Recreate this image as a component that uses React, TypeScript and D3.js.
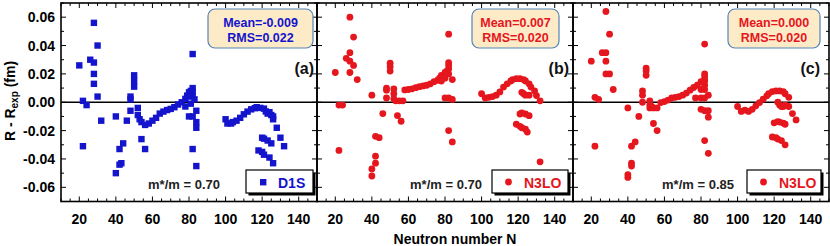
import React from 'react';
import * as d3 from 'd3';

// ---- data: [N, R - Rexp (fm)] ----
const d1sPoints: [number, number][] = [
  [20, 0.026], [22, 0.001], [22, -0.031], [24, -0.002], [26, 0.030],
  [28, 0.056], [28, 0.028], [28, 0.020], [28, 0.013], [30, 0.040], [30, 0.004], [32, -0.013],
  [40, -0.010], [40, -0.050], [42, -0.033], [42, -0.044], [43, -0.043], [44, -0.029], [46, -0.013],
  [48, 0.004], [48, 0.002], [48, -0.006], [50, 0.019], [50, 0.015], [50, 0.011],
  [52, -0.004], [52, -0.009], [54, -0.026], [56, -0.033],
  [53, -0.012], [54, -0.014], [56, -0.016], [58, -0.015], [60, -0.013], [62, -0.011], [64, -0.008],
  [66, -0.0066], [68, -0.0055], [70, -0.0047], [72, -0.0035], [74, -0.0016], [76, 0.0], [78, 0.0024],
  [79, 0.0047], [80, 0.007], [81, 0.008], [82, 0.010], [82, 0.0075], [82, 0.0045], [82, 0.034],
  [80, 0.004], [81, -0.001], [78, -0.003], [80, -0.010], [82, -0.010], [82, -0.033],
  [84, -0.045], [84, -0.006], [84, -0.014], [84, -0.018], [83, 0.002],
  [100, -0.012], [101, -0.015], [103, -0.015], [104, -0.014], [106, -0.013], [108, -0.011],
  [110, -0.0085], [112, -0.0066], [114, -0.005], [116, -0.0042], [117, -0.0035], [119, -0.004],
  [121, -0.0045], [122, -0.0065], [123, -0.008], [124, -0.007], [125, -0.009], [126, -0.010], [126, -0.012],
  [120, -0.025], [121, -0.0257], [123, -0.027], [125, -0.029],
  [118, -0.034], [120, -0.035], [121, -0.037], [124, -0.039], [126, -0.043],
  [128, -0.018], [130, -0.025], [132, -0.031],
];

const n3loPoints070: [number, number][] = [
  [20, 0.021], [22, -0.034], [22, -0.002], [24, -0.002], [26, 0.031],
  [28, 0.060], [28, 0.035], [28, 0.029], [28, 0.021], [30, 0.046], [30, 0.026], [32, 0.016],
  [40, 0.005], [40, -0.047], [40, -0.052], [42, -0.038], [42, -0.043], [42, -0.024], [44, -0.025], [46, -0.008],
  [48, 0.010], [48, 0.0085], [48, 0.003], [50, 0.0275], [50, 0.025], [50, 0.022],
  [52, 0.0094], [52, 0.006], [52, 0.0025], [54, -0.0094], [56, -0.0134],
  [53, 0.001], [55, 0.001], [57, 0.001], [58, 0.0087], [60, 0.009], [62, 0.0095], [64, 0.0103],
  [66, 0.011], [68, 0.0115], [70, 0.012], [72, 0.013], [74, 0.0145], [76, 0.0155], [77, 0.017],
  [78, 0.019], [80, 0.021], [81, 0.022], [82, 0.0235], [82, 0.026], [82, 0.028], [82, 0.048],
  [82, 0.020], [80, 0.017], [78, 0.015], [80, 0.003], [82, 0.003], [84, 0.002],
  [82, -0.020], [84, -0.028], [84, 0.016],
  [100, 0.006], [102, 0.003], [104, 0.0035], [106, 0.004], [108, 0.005], [110, 0.0073],
  [112, 0.0107], [114, 0.013], [116, 0.015], [117, 0.016], [119, 0.0166], [121, 0.0166],
  [123, 0.016], [124, 0.015], [126, 0.013], [127, 0.0107], [129, 0.008],
  [122, 0.007], [123, 0.006], [124, 0.005], [126, 0.005], [130, 0.0047], [132, 0.001],
  [121, -0.0083], [122, -0.0075], [124, -0.0083], [126, -0.0095],
  [119, -0.0155], [121, -0.017], [122, -0.018], [124, -0.019], [125, -0.021],
  [132, -0.042],
];

const n3loPoints085: [number, number][] = [
  [20, 0.029], [22, 0.0035], [24, 0.002], [22, -0.031], [26, 0.035],
  [28, 0.035], [28, 0.064], [28, 0.029], [28, 0.020], [30, 0.020], [30, 0.048], [32, 0.009],
  [40, -0.004], [40, -0.051], [40, -0.053], [42, -0.031], [42, -0.043], [42, -0.045], [44, -0.028], [46, -0.010],
  [48, 0.008], [48, 0.005], [48, 0.0], [50, 0.024], [50, 0.022], [50, 0.019],
  [52, 0.001], [52, -0.002], [52, -0.004], [54, -0.015], [56, -0.020],
  [53, -0.003], [54, -0.004], [56, -0.004], [58, -0.0002], [60, 0.0005], [62, 0.0015], [64, 0.003],
  [66, 0.0035], [68, 0.004], [70, 0.005], [72, 0.0065], [74, 0.0085], [76, 0.0104], [78, 0.012],
  [80, 0.0145], [82, 0.016], [82, 0.041], [82, 0.020], [82, 0.018], [82, 0.015], [82, 0.012],
  [80, 0.009], [82, 0.009], [77, 0.003], [80, 0.003], [82, 0.003], [84, 0.005],
  [80, -0.005], [82, -0.006], [84, -0.006], [84, -0.0105], [82, -0.027], [84, -0.036],
  [100, -0.003], [102, -0.0065], [104, -0.0055], [106, -0.0065], [108, -0.005], [110, -0.0025],
  [112, -0.0002], [114, 0.0022], [116, 0.0045], [117, 0.006], [119, 0.0075], [121, 0.008],
  [123, 0.008], [125, 0.0075], [126, 0.006], [128, 0.0035],
  [122, 0.0], [123, -0.002], [124, -0.003], [125, -0.003], [126, -0.002], [128, -0.003],
  [130, -0.008], [132, -0.0125],
  [120, -0.0145], [122, -0.0137], [123, -0.014], [125, -0.0147], [126, -0.0155],
  [119, -0.0245], [121, -0.025], [122, -0.026], [124, -0.027], [126, -0.030],
];

const xTickLabels = [20, 40, 60, 80, 100, 120, 140];
const yTickLabels = [-0.06, -0.04, -0.02, 0.0, 0.02, 0.04, 0.06];
const panelTags = ['(a)', '(b)', '(c)'];
const meanLabels = ['Mean=-0.009', 'Mean=0.007', 'Mean=0.000'];
const rmsLabels = ['RMS=0.022', 'RMS=0.020', 'RMS=0.020'];
const massRatios = ['m*/m = 0.70', 'm*/m = 0.70', 'm*/m = 0.85'];
const seriesNames = ['D1S', 'N3LO', 'N3LO'];

const BLUE = '#1414cc';
const RED = '#e5161d';
const FONT = '"Liberation Sans", Arial, Helvetica, sans-serif';

const panels = [
  { data: d1sPoints, color: BLUE, square: true, left: 61, stat: [208, 105], legend: [246, 67], ratioX: 184, tagX: 314 },
  { data: n3loPoints070, color: RED, square: false, left: 317, stat: [472, 87], legend: [492, 76], ratioX: 446, tagX: 569 },
  { data: n3loPoints085, color: RED, square: false, left: 573, stat: [728, 92], legend: [747, 74], ratioX: 698, tagX: 820 },
];

const PW = 256;
const TOP = 3;
const BOTTOM = 201.5;

const y = d3.scaleLinear().domain([-0.07, 0.07]).range([BOTTOM, TOP]);

const Panel = ({ p, i }: { p: typeof panels[number]; i: number }) => {
  const x = d3.scaleLinear().domain([10, 150]).range([p.left, p.left + PW]);
  const xMinor = d3.range(10, 151, 5);
  const yMinor = d3.range(-7, 8).map((v) => v / 100);
  const right = p.left + PW;
  const [sx, sw] = p.stat;
  const [lx, lw] = p.legend;
  return (
    <g>
      {/* zero line */}
      <line x1={p.left} x2={right} y1={y(0)} y2={y(0)} stroke="#000" strokeWidth={1.3} />
      {/* ticks */}
      {xMinor.map((t) => {
        const len = t % 20 === 0 ? 5 : 3;
        return (
          <g key={'x' + t}>
            <line x1={x(t)} x2={x(t)} y1={BOTTOM} y2={BOTTOM - len} stroke="#000" strokeWidth={1} />
            <line x1={x(t)} x2={x(t)} y1={TOP} y2={TOP + len} stroke="#000" strokeWidth={1} />
          </g>
        );
      })}
      {yMinor.map((t, k) => {
        const len = k % 2 === 1 ? 5 : 3;
        return (
          <g key={'y' + k}>
            <line x1={p.left} x2={p.left + len} y1={y(t)} y2={y(t)} stroke="#000" strokeWidth={1} />
            <line x1={right} x2={right - len} y1={y(t)} y2={y(t)} stroke="#000" strokeWidth={1} />
          </g>
        );
      })}
      {xTickLabels.map((t) => (
        <text key={'xl' + t} x={x(t)} y={224} textAnchor="middle" fontSize={14} fontWeight="bold">
          {t}
        </text>
      ))}
      {/* points */}
      {p.data.map(([n, v], k) =>
        p.square ? (
          <rect key={k} x={x(n) - 3.2} y={y(v) - 3.2} width={6.4} height={6.4} fill={p.color} />
        ) : (
          <circle key={k} cx={x(n)} cy={y(v)} r={3.4} fill={p.color} />
        )
      )}
      {/* stats box */}
      <rect x={sx} y={9} width={sw} height={39} rx={7} fill="#fdebc8" stroke="#5585b8" strokeWidth={1.2} />
      <text x={sx + sw / 2} y={27} textAnchor="middle" fontSize={12.5} fontWeight="bold" fill={p.color}>
        {meanLabels[i]}
      </text>
      <text x={sx + sw / 2} y={42} textAnchor="middle" fontSize={12.5} fontWeight="bold" fill={p.color}>
        {rmsLabels[i]}
      </text>
      {/* panel tag */}
      <text x={p.tagX} y={74} textAnchor="end" fontSize={16} fontWeight="bold" fill="#111">
        {panelTags[i]}
      </text>
      {/* effective mass label */}
      <text x={p.ratioX} y={188.5} textAnchor="middle" fontSize={13} fontWeight="bold" fill="#222">
        {massRatios[i]}
      </text>
      {/* legend */}
      <rect x={lx + 2.5} y={172.5} width={lw} height={23} fill="#000" />
      <rect x={lx} y={170} width={lw} height={23} fill="#fff" stroke="#000" strokeWidth={1.2} />
      {p.square ? (
        <rect x={lx + 14} y={179} width={6.4} height={6.4} fill={p.color} />
      ) : (
        <circle cx={lx + 16.5} cy={182} r={3.4} fill={p.color} />
      )}
      <text x={lx + 32} y={187.5} fontSize={14} fontWeight="bold" fill={p.color}>
        {seriesNames[i]}
      </text>
      {/* frame */}
      <rect x={p.left} y={TOP} width={PW} height={BOTTOM - TOP} fill="none" stroke="#000" strokeWidth={1.6} />
    </g>
  );
};

export default function App() {
  return (
    <svg
      width={830}
      height={246}
      style={{ position: 'absolute', left: 0, top: 0, background: '#fff' }}
      fontFamily={FONT}
    >
      {yTickLabels.map((t) => (
        <text key={t} x={55} y={y(t) + 5} textAnchor="end" fontSize={14} fontWeight="bold">
          {t.toFixed(2)}
        </text>
      ))}
      <text transform={`translate(15,101) rotate(-90)`} textAnchor="middle" fontSize={14} fontWeight="bold">
        R - R
        <tspan dy={3} fontSize={10}>exp</tspan>
        <tspan dy={-3}> (fm)</tspan>
      </text>
      {panels.map((p, i) => (
        <Panel key={i} p={p} i={i} />
      ))}
      <text x={455} y={244} textAnchor="middle" fontSize={14} fontWeight="bold">
        Neutron number N
      </text>
    </svg>
  );
}
